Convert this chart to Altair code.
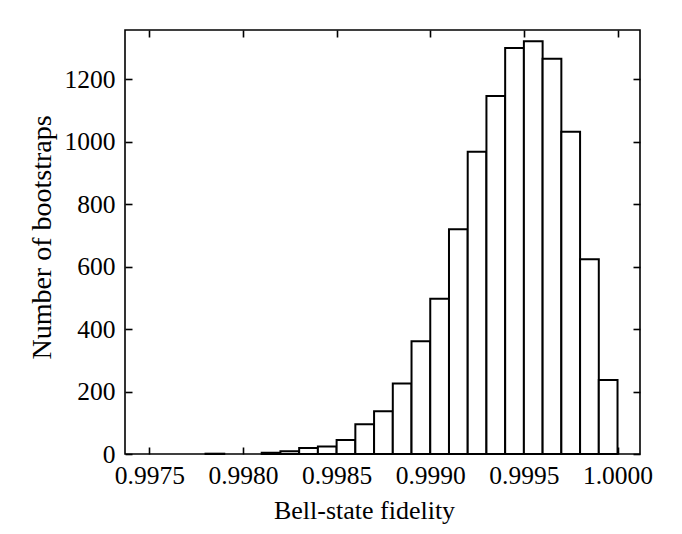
import altair as alt
import pandas as pd

# Histogram of bootstrapped Bell-state fidelities (bin width 0.0001)
bin_start = [0.9978, 0.9981, 0.9982, 0.9983, 0.9984, 0.9985, 0.9986, 0.9987,
             0.9988, 0.9989, 0.9990, 0.9991, 0.9992, 0.9993, 0.9994, 0.9995,
             0.9996, 0.9997, 0.9998, 0.9999]
counts = [1, 4, 9, 19, 24, 45, 95, 137, 226, 361, 497, 720, 968, 1147,
          1300, 1322, 1266, 1032, 624, 237]
bin_width = 0.0001

x_ticks = [0.9975, 0.9980, 0.9985, 0.9990, 0.9995, 1.0000]
y_ticks = [0, 200, 400, 600, 800, 1000, 1200]

df = pd.DataFrame({
    "start": bin_start,
    "end": [round(s + bin_width, 4) for s in bin_start],
    "count": counts,
})

W, H = 515, 424
FONT = "Liberation Serif"

xscale = alt.Scale(domain=[0.99737, 1.00012], nice=False, zero=False)
yscale = alt.Scale(domain=[0, 1358], nice=False)

base = alt.Chart(df)

bars = base.mark_rect(fill="white", stroke="black", strokeWidth=2).encode(
    x=alt.X("start:Q", scale=xscale,
            axis=alt.Axis(orient="bottom", values=x_ticks, format=".4f",
                          ticks=False, domain=False, grid=False,
                          labelPadding=9, labelFontSize=25.5, labelFont=FONT,
                          labelColor="black", labelFlush=False,
                          title="Bell-state fidelity", titleFont=FONT,
                          titleFontSize=26, titleFontWeight="normal",
                          titleColor="black", titleX=239, titleY=64,
                          titleBaseline="alphabetic", titleAlign="center")),
    x2="end:Q",
    y=alt.Y("count:Q", scale=yscale,
            axis=alt.Axis(orient="left", values=y_ticks, format="d",
                          ticks=False, domain=False, grid=False,
                          labelPadding=10, labelFontSize=25.5, labelFont=FONT,
                          labelColor="black", labelFlush=False,
                          labelBaseline="middle",
                          title="Number of bootstraps", titleFont=FONT,
                          titleFontSize=28, titleFontWeight="normal",
                          titleColor="black", titleAngle=270,
                          titleX=-75, titleY=207, titleBaseline="alphabetic",
                          titleAlign="center")),
    y2=alt.datum(0),
)

tick_style = dict(labels=False, domain=False, grid=False, ticks=True,
                  tickSize=7, tickWidth=1.6, tickColor="black", title=None)

# inward ticks on the bottom and left edges
ticks_a = base.mark_rect(opacity=0).encode(
    x=alt.X("start:Q", scale=xscale,
            axis=alt.Axis(orient="top", offset=-H, values=x_ticks, **tick_style)),
    y=alt.Y("count:Q", scale=yscale,
            axis=alt.Axis(orient="right", offset=-W, values=y_ticks, **tick_style)),
)

# inward ticks on the top and right edges
ticks_b = base.mark_rect(opacity=0).encode(
    x=alt.X("start:Q", scale=xscale,
            axis=alt.Axis(orient="bottom", offset=-H, values=x_ticks, **tick_style)),
    y=alt.Y("count:Q", scale=yscale,
            axis=alt.Axis(orient="left", offset=-W, values=y_ticks, **tick_style)),
)

chart = (
    alt.layer(bars, ticks_a, ticks_b)
    .resolve_axis(x="independent", y="independent")
    .properties(width=W, height=H, autosize="none",
                padding={"left": 125, "top": 30, "right": 42, "bottom": 80},
                background="white")
    .configure_view(stroke="black", strokeWidth=1.6)
)

chart.save("out.html", embed_options={"renderer": "svg", "actions": False})
